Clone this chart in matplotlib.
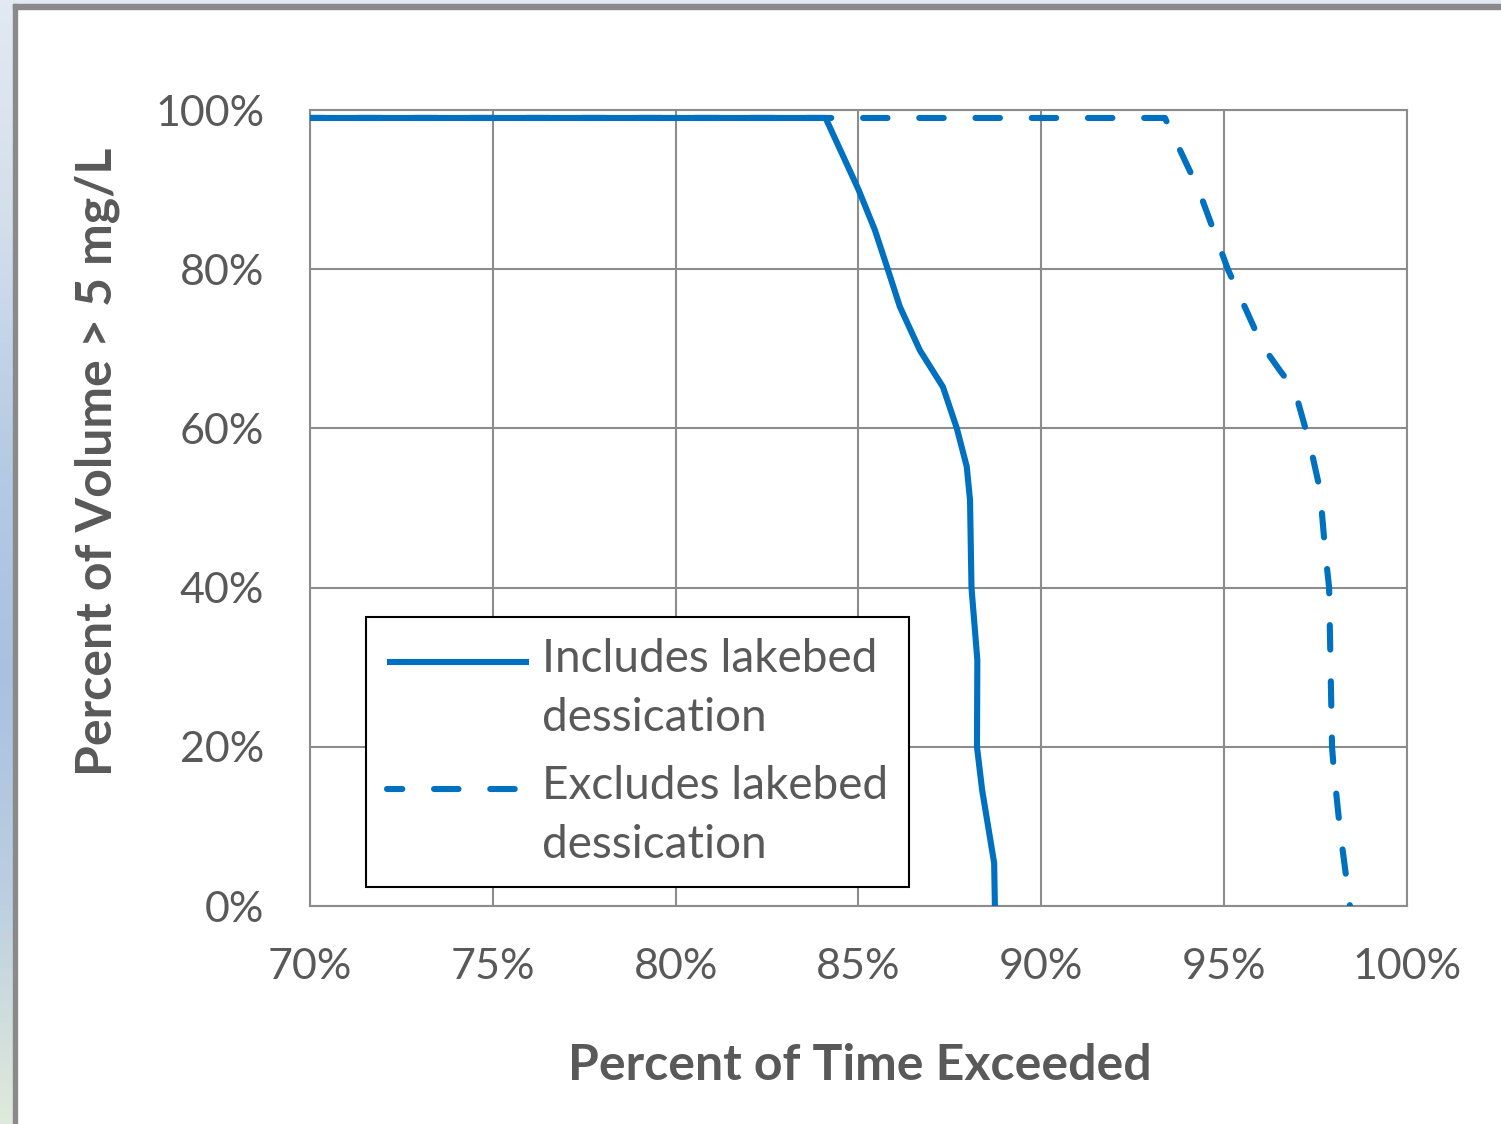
import numpy as np
import matplotlib
matplotlib.use("Agg")
from matplotlib import pyplot as plt
from matplotlib.colors import LinearSegmentedColormap
from matplotlib.patches import Rectangle
from matplotlib.ticker import FuncFormatter
from matplotlib.legend_handler import HandlerLine2D

# percent of time exceeded (x) vs percent of volume > 5 mg/L (y)
incl_x = [70.0, 84.1, 85.0, 85.45, 85.8, 86.13, 86.68, 87.31, 87.69, 87.96, 88.05, 88.09, 88.25, 88.24, 88.38, 88.71, 88.73]
incl_y = [99.0, 99.0, 90.0, 84.9, 80.0, 75.3, 69.8, 65.2, 60.0, 55.2, 51.0, 40.0, 30.9, 20.0, 14.6, 5.4, 0.0]

excl_x = [70.0, 93.38, 94.3, 95.1, 96.03, 96.52, 96.93, 97.35, 97.62, 97.76, 97.87, 97.95, 98.0, 98.17, 98.44]
excl_y = [99.0, 99.0, 90.0, 80.0, 70.5, 67.3, 64.8, 57.9, 52.3, 44.7, 40.0, 20.0, 17.0, 9.5, 0.0]

labels = ["Includes lakebed\ndessication", "Excludes lakebed\ndessication"]
xticks = [70, 75, 80, 85, 90, 95, 100]
yticks = [0, 20, 40, 60, 80, 100]

blue = "#0070c0"
grey_txt = "#595959"
grid_c = "#8c8c8c"


class TopHandler(HandlerLine2D):
    # legend key sits next to the first text line, not the middle
    def create_artists(self, legend, orig, xd, yd, w, h, fs, trans):
        arts = super().create_artists(legend, orig, xd, yd, w, h, fs, trans)
        for a in arts:
            a.set_ydata(np.asarray(a.get_ydata()) + 0.6 * fs)
        return arts


plt.rcParams['font.family'] = ['Lato', 'DejaVu Sans']

W, H = 1501, 1124
fig = plt.figure(figsize=(W / 100, H / 100), dpi=100)

# window-like frame on the left and top
strip = fig.add_axes([0, 0, 13 / W, 1])
cmap = LinearSegmentedColormap.from_list("s", ["#e2e9f2", "#d3deec", "#b6cbe4", "#a9c1e0", "#bccfe0", "#dfe9dc"])
strip.imshow(np.linspace(0, 1, 200).reshape(-1, 1), aspect="auto", cmap=cmap)
strip.axis("off")
fig.patches.append(Rectangle((13 / W, 1 - 4 / H), 1, 4 / H, transform=fig.transFigure, color="#e2e9f2", zorder=0))
fig.patches.append(Rectangle((13 / W, 1 - 9 / H), 1, 5 / H, transform=fig.transFigure, color="#8a8a8a", zorder=1))
fig.patches.append(Rectangle((13 / W, 0), 4 / W, 1 - 4 / H, transform=fig.transFigure, color="#8a8a8a", zorder=1))

ax = fig.add_axes([310 / W, 1 - 906 / H, 1097 / W, 796 / H])
ax.plot(incl_x, incl_y, color=blue, lw=4.4, solid_joinstyle="round", solid_capstyle="butt",
        label=labels[0], zorder=3)
ax.plot(excl_x, excl_y, color=blue, lw=4.4, linestyle=(1.5, (4, 5.2)), dash_capstyle="round",
        label=labels[1], zorder=3)

ax.set_xlim(70, 100)
ax.set_ylim(0, 100)
ax.set_xticks(xticks)
ax.set_yticks(yticks)
ax.xaxis.set_major_formatter(FuncFormatter(lambda v, p: "%d%%" % v))
ax.yaxis.set_major_formatter(FuncFormatter(lambda v, p: "%d%%" % v))
ax.tick_params(length=0, labelsize=31, colors=grey_txt)
ax.tick_params(axis="y", pad=33)
ax.tick_params(axis="x", pad=30)
ax.grid(True, color=grid_c, lw=1.5)
for s in ax.spines.values():
    s.set_color(grid_c)
    s.set_linewidth(1.5)

fig.text(860 / W, 1 - 1065 / H, "Percent of Time Exceeded", ha="center", va="center",
         fontsize=36, fontweight="bold", color=grey_txt)
fig.text(97 / W, 1 - 462 / H, "Percent of Volume > 5 mg/L", ha="center", va="center",
         rotation=90, fontsize=36, fontweight="bold", color=grey_txt)

leg = ax.legend(loc="lower left", bbox_to_anchor=(0.051, 0.024), borderaxespad=0,
                fontsize=33, handlelength=3.1, handletextpad=0.3, labelspacing=0.55,
                borderpad=0.45, fancybox=False, framealpha=1, edgecolor="black",
                handler_map={matplotlib.lines.Line2D: TopHandler()})
leg.get_frame().set_linewidth(1.5)
for t in leg.get_texts():
    t.set_color(grey_txt)
    t.set_linespacing(1.52)

fig.savefig("out.png", dpi=100)
